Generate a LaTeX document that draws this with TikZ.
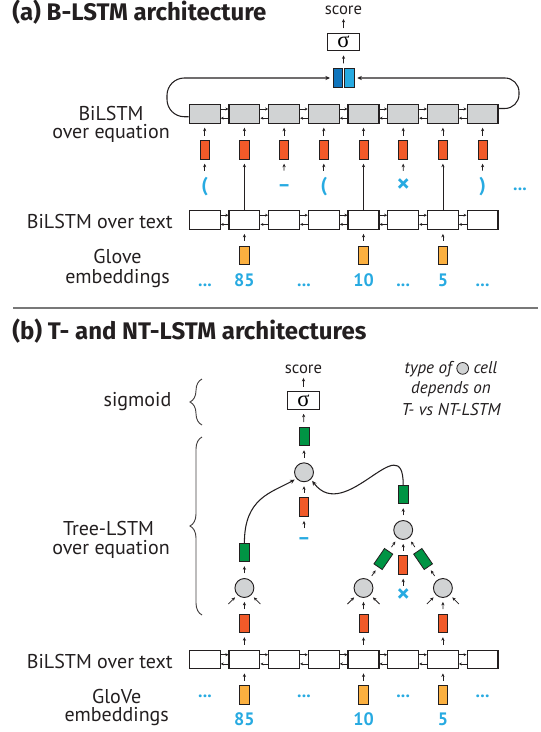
\documentclass[tikz,border=0pt]{standalone}
\usepackage{fontspec}
\setmainfont{PT Sans}
\newfontfamily\sigfont{Liberation Serif}
\newfontfamily\ttlfont{Fira Sans}
\usetikzlibrary{arrows.meta,calc,decorations.pathreplacing}
\definecolor{cdark}{RGB}{35,31,32}
\definecolor{cgray}{RGB}{209,211,212}
\definecolor{corange}{RGB}{241,90,41}
\definecolor{cgreen}{RGB}{0,148,68}
\definecolor{cyellow}{RGB}{251,176,64}
\definecolor{cdblue}{RGB}{16,117,188}
\definecolor{clblue}{RGB}{39,170,225}
\definecolor{csep}{RGB}{120,120,120}
\tikzset{
  lstm/.style={rectangle, draw=cdark, line width=0.9pt, minimum width=23.2pt, minimum height=14pt, inner sep=0pt},
  gcell/.style={lstm, fill=cgray},
  wcell/.style={lstm, fill=white},
  vec/.style={rectangle, draw=cdark, line width=0.6pt, minimum width=6.8pt, minimum height=14pt, inner sep=0pt},
  ovec/.style={vec, fill=corange},
  gvec/.style={vec, fill=cgreen, minimum width=7.5pt},
  yvec/.style={vec, fill=cyellow, minimum width=7.3pt},
  bvec/.style={vec, minimum width=7.3pt, minimum height=14.5pt},
  tcell/.style={circle, draw=cdark, line width=0.7pt, fill=cgray, minimum size=14.2pt, inner sep=0pt},
  sbox/.style={rectangle, draw=cdark, line width=0.9pt, fill=white, minimum width=23.6pt, minimum height=13pt, inner sep=0pt, font=\sigfont\fontsize{17}{17}\selectfont},
  sarr/.style={-{Stealth[length=2.6pt,width=2.4pt]}, line width=0.55pt, draw=cdark, shorten <=3.5pt, shorten >=3pt},
  darr/.style={-{Stealth[length=2.6pt,width=2.4pt]}, line width=0.55pt, draw=cdark, shorten >=2.5pt},
  larr/.style={-{Stealth[length=2.6pt,width=2.4pt]}, line width=0.6pt, draw=cdark, shorten >=3pt},
  harr/.style={-{Stealth[length=2.2pt,width=2.2pt]}, line width=0.5pt, draw=cdark},
  curv/.style={-{Stealth[length=3.4pt,width=3.2pt]}, line width=0.8pt, draw=cdark},
  lbl/.style={font=\fontsize{15}{15}\selectfont, text=cdark, inner sep=0pt, anchor=base},
  ttl/.style={font=\ttlfont\bfseries\fontsize{18}{18}\selectfont, text=cdark, inner sep=0pt, anchor=base west},
  sym/.style={font=\bfseries\fontsize{15}{15}\selectfont, text=clblue, inner sep=0pt, anchor=base, text depth=0pt},
  bigx/.style={sym, font=\bfseries\fontsize{19}{19}\selectfont},
  num/.style={font=\bfseries\fontsize{13.5}{13.5}\selectfont, text=clblue, inner sep=0pt, anchor=base},
  scr/.style={font=\fontsize{12.5}{12.5}\selectfont, text=cdark, inner sep=0pt, anchor=base},
  note/.style={font=\itshape\fontsize{12.8}{12.8}\selectfont, text=cdark, inner sep=0pt, anchor=base},
  brc/.style={decorate, decoration={brace, amplitude=9pt, aspect=0.5}, draw=cdark!85, line width=0.7pt}
}
\begin{document}
\begin{tikzpicture}[x=0.75pt,y=-0.75pt]
\useasboundingbox (0,0) rectangle (540,732);
% ---------------- (a) ----------------
\node[ttl] (ta) at (12,20) {(a) B-LSTM architecture};
\node[scr] (sca) at (343.5,14.5) {score};
\node[sbox] (sba) at (343.5,42.2) {σ};
\node[bvec, fill=cdblue] (bl1) at (337.8,78) {};
\node[bvec, fill=clblue] (bl2) at (349.4,78) {};
\coordinate (bp) at ($(bl1.north east)!0.5!(bl2.north west)$);
\draw[sarr] (sba.north) -- (sca.south);
\draw[sarr] (bp) -- (sba.south);
\foreach \i in {1,...,8}{
  \pgfmathsetmacro\xx{204.7+39.7*(\i-1)}
  \node[gcell] (g\i) at (\xx,113.8) {};
  \node[ovec] (o\i) at (\xx,150) {};
  \node[wcell] (w\i) at (\xx,220) {};
  \node[wcell] (v\i) at (\xx,659.5) {};
  \draw[sarr] (o\i.north) -- (g\i.south);
}
\foreach \i [evaluate=\i as \j using int(\i+1)] in {1,...,7}{
  \draw[harr] ([yshift=3.6pt]g\i.east) -- ([yshift=3.6pt]g\j.west);
  \draw[harr] ([yshift=-3.3pt]g\j.west) -- ([yshift=-3.3pt]g\i.east);
  \draw[harr] ([yshift=3.6pt]w\i.east) -- ([yshift=3.6pt]w\j.west);
  \draw[harr] ([yshift=-3.3pt]w\j.west) -- ([yshift=-3.3pt]w\i.east);
  \draw[harr] ([yshift=3.6pt]v\i.east) -- ([yshift=3.6pt]v\j.west);
  \draw[harr] ([yshift=-3.3pt]v\j.west) -- ([yshift=-3.3pt]v\i.east);
}
\coordinate (lpL) at (167,78);
\coordinate (lpR) at (519,78);
\draw[curv, rounded corners=13pt, shorten >=2pt] ([yshift=-2.2pt]g1.west) -| (lpL) -- (bl1.west);
\draw[curv, rounded corners=10.5pt, shorten >=2pt] ([yshift=4pt]g8.east) -| (lpR) -- (bl2.east);
% symbols of the equation
\node[sym, text height=11.5pt] (s1) at (204.7,191) {(};
\node[sym, text height=11.5pt] (s3) at (284.1,191) {–};
\node[sym, text height=11.5pt] (s4) at (323.8,191) {(};
\node[bigx, text height=12.5pt] (s6) at (403.2,192.5) {×};
\node[sym, text height=11.5pt] (s8) at (482.6,191) {)};
\node[num] (da0) at (520,190.5) {...};
\foreach \i in {1,3,4,6,8}{ \draw[sarr] (s\i.north) -- (o\i.south); }
\foreach \i in {2,5,7}{ \draw[larr] (w\i.north) -- (o\i.south); }
% glove (a)
\foreach \i/\n in {2/85,5/10,7/5}{
  \pgfmathsetmacro\xx{204.7+39.7*(\i-1)}
  \node[yvec] (ya\i) at (\xx,255.3) {};
  \draw[sarr] (ya\i.north) -- (w\i.south);
  \node[num] (na\i) at (\xx,286) {\n};
}
\node[num] (da1) at (205,286) {...};
\node[num] (da2) at (304,286) {...};
\node[num] (da3) at (403.2,286) {...};
\node[num] (da4) at (482.6,286) {...};
\node[lbl] (la1) at (111,120) {BiLSTM};
\node[lbl] (la2) at (111,138.5) {over equation};
\node[lbl, anchor=base east] (la3) at (173,228) {BiLSTM over text};
\node[lbl] (la4) at (117.5,263) {Glove};
\node[lbl] (la5) at (117.5,283) {embeddings};
% separator
\draw[line width=1.1pt, draw=csep] (13,308) -- (538,308);
% ---------------- (b) ----------------
\node[ttl] (tb) at (12,339) {(b) T- and NT-LSTM architectures};
\node[scr] (scb) at (303.5,373.5) {score};
\node[sbox] (sbb) at (303.5,400.5) {σ};
\node[gvec] (gT) at (304,436.5) {};
\node[tcell] (R) at (304,472.3) {};
\node[ovec] (oR) at (304,507.2) {};
\node[sym, text height=8.7pt] (dash) at (304,544.6) {–};
\node[gvec] (gR) at (403.2,494.5) {};
\node[tcell] (M) at (403.2,530) {};
\node[ovec] (oM) at (403.2,565) {};
\node[bigx, text height=8.5pt] (times) at (403.2,602.2) {×};
\node[tcell] (L1) at (244.4,588) {};
\node[tcell] (L2) at (363.5,588) {};
\node[tcell] (L3) at (442.9,588) {};
\node[gvec] (gL) at (244.4,552.5) {};
\node[gvec, rotate=-34.4] (gML) at (383.35,559) {};
\node[gvec, rotate=34.4] (gMR) at (423.05,559) {};
\draw[sarr] (sbb.north) -- (scb.south);
\draw[sarr] (gT.north) -- (sbb.south);
\draw[sarr] (R.north) -- (gT.south);
\draw[sarr] (oR.north) -- (R.south);
\draw[sarr] (dash.north) -- (oR.south);
\draw[sarr] (M.north) -- (gR.south);
\draw[sarr] (oM.north) -- (M.south);
\draw[sarr] (times.north) -- (oM.south);
\draw[sarr] (L1.north) -- (gL.south);
\draw[sarr] (L2) -- (gML);
\draw[sarr] (gML) -- (M);
\draw[sarr] (L3) -- (gMR);
\draw[sarr] (gMR) -- (M);
\draw[curv, shorten >=1.5pt] (gL.north) .. controls +(0,-45) and +(-25,14) .. (R.-140);
\draw[curv, shorten >=1.5pt] (gR.north) .. controls +(0,-60) and +(34.4,46.1) .. (R.-45);
\foreach \i/\c/\n in {2/L1/85,5/L2/10,7/L3/5}{
  \pgfmathsetmacro\xx{204.7+39.7*(\i-1)}
  \node[ovec] (ob\i) at (\xx,623.5) {};
  \node[yvec] (yb\i) at (\xx,695) {};
  \draw[sarr] (v\i.north) -- (ob\i.south);
  \draw[sarr] (ob\i.north) -- (\c.south);
  \draw[sarr] (yb\i.north) -- (v\i.south);
  \draw[darr] ($(\c.-135)+(-9,9)$) -- (\c.-135);
  \draw[darr] ($(\c.-45)+(9,9)$) -- (\c.-45);
  \node[num] (nb\i) at (\xx,725) {\n};
}
\node[num] (db1) at (205,697) {...};
\node[num] (db2) at (304,697) {...};
\node[num] (db3) at (403.2,697) {...};
\node[num] (db4) at (482.6,697) {...};
\node[lbl] (lb1) at (137.5,406.5) {sigmoid};
\node[lbl] (lb2) at (108.5,535) {Tree-LSTM};
\node[lbl] (lb3) at (111,554.5) {over equation};
\node[lbl, anchor=base east] (lb4) at (173,668) {BiLSTM over text};
\node[lbl] (lb5) at (116.7,703.3) {GloVe};
\node[lbl] (lb6) at (116.7,721.5) {embeddings};
\draw[brc] (202,425) -- (202,379);
\draw[brc] (202,615) -- (202,437);
% note
\node[note] (nt1) at (451,373.5) {type of \tikz[baseline=-0.6ex]\draw[draw=cdark, line width=0.6pt, fill=cgray] (0,0) circle (4.4pt); cell};
\node[note] (nt2) at (451,393.5) {depends on};
\node[note] (nt3) at (451,415) {T- vs NT-LSTM};
\end{tikzpicture}
\end{document}
